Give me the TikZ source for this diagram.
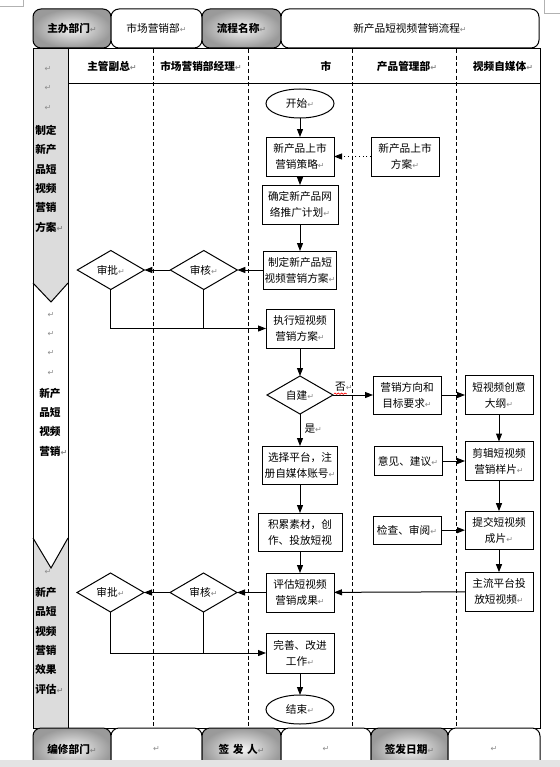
\documentclass[tikz,border=0pt]{standalone}
\usepackage{fontspec}
\setmainfont{Noto Sans CJK SC}
\newfontfamily\markfont{DejaVu Sans}
\usepackage{xcolor}
\usepackage{tikz}
\usetikzlibrary{
    positioning,              % For relative node placement (e.g., below=of)
    arrows.meta,              % For the filled triangle tips
    shapes.geometric,         % For diamond and ellipse nodes
    decorations.pathmorphing  % For the wavy underline
}
\definecolor{lanegray}{HTML}{DCDCDC}
\definecolor{markgray}{HTML}{8C8C8C}
\definecolor{shadein}{HTML}{F6F6F6}
\definecolor{shadeout}{HTML}{9A9A9A}
\definecolor{barfill}{HTML}{E4E4E4}
\newcommand{\ret}{{\markfont\fontsize{6}{6}\selectfont\color{markgray}↵}}

\begin{document}
\begin{tikzpicture}[x=0.75pt, y=-0.75pt]

    % --- Style Definitions ---
    \tikzset{
        % boxes of the flow
        stepbox/.style={
            rectangle, draw, line width=0.75pt, inner sep=1pt, outer sep=0pt,
            align=center, font=\fontsize{8}{12}\selectfont,
            minimum width=51pt, minimum height=29.25pt
        },
        % review diamonds
        decide/.style={
            diamond, draw, line width=0.75pt, inner sep=0pt, outer sep=0pt, aspect=1.7,
            font=\fontsize{8}{12}\selectfont,
            minimum width=50.25pt, minimum height=29.25pt
        },
        % start and end
        terminal/.style={
            ellipse, draw, line width=0.75pt, inner sep=0pt, outer sep=0pt,
            font=\fontsize{8}{12}\selectfont,
            minimum width=51pt, minimum height=21.75pt
        },
        % cells of the head and foot rows
        graycell/.style={
            rectangle, rounded corners=6pt, draw, line width=0.75pt, outer sep=0pt,
            inner color=shadein, outer color=shadeout,
            minimum height=29.25pt, font=\bfseries\fontsize{8}{12}\selectfont
        },
        whitecell/.style={
            rectangle, rounded corners=6pt, draw, line width=0.75pt, outer sep=0pt, fill=white,
            minimum height=29.25pt, font=\fontsize{8}{12}\selectfont
        },
        colhead/.style={font=\bfseries\fontsize{8}{12}\selectfont, inner sep=0pt},
        lanetext/.style={font=\bfseries\fontsize{8}{14.5}\selectfont, align=left, inner sep=0pt, anchor=base west},
        lanemark/.style={font=\fontsize{8}{14.5}\selectfont, align=center, inner sep=0pt, anchor=base},
        divider/.style={line width=0.6pt, dash pattern=on 3pt off 2pt},
        arrow/.style={
            ->,
            line width=0.75pt,
            >={Triangle[length=6pt,width=4.5pt]},
            black
        }
    }

    \useasboundingbox (0,0) rectangle (560,767);
    \fill[white] (0,0) rectangle (560,767);

    % page corner marks
    \draw[gray!60, line width=0.5pt] (0,6) -- (23,6) -- (23,0);
    \draw[gray!60, line width=0.5pt] (560,13) -- (544,13) -- (544,0);

    % --- Head row ---
    \node[graycell, minimum width=58.5pt, anchor=north west] (host) at (33,9) {主办部门\ret};
    \node[whitecell, minimum width=68.25pt, right=0pt of host] (hostname) {市场营销部\ret};
    \node[graycell, minimum width=59.25pt, right=0pt of hostname] (flow) {流程名称\ret};
    \node[whitecell, minimum width=193.5pt, right=0pt of flow] (flowname) {新产品短视频营销流程\ret};

    % --- Lane strip ---
    \fill[lanegray] (33,49) -- (68,49) -- (68,283) -- (51,302) -- (33,283) -- cycle;
    \fill[lanegray] (33,538) -- (51,568) -- (68,538) -- (68,728) -- (33,728) -- cycle;
    \draw[line width=0.75pt] (33,283) -- (51,302) -- (68,283);
    \draw[line width=0.75pt] (33,538) -- (51,568) -- (68,538);

    % --- Frame and columns ---
    \draw[line width=0.75pt] (33,49) rectangle (540,728);
    \draw[line width=0.75pt] (68,49) -- (68,728);
    \draw[line width=0.75pt] (68,84) -- (540,84);
    \draw[divider] (153,49) -- (153,728);
    \draw[divider] (248,49) -- (248,728);
    \draw[divider] (352,49) -- (352,728);
    \draw[divider] (456,49) -- (456,728);

    \node[colhead] (vp) at (112,66) {主管副总\ret};
    \node[colhead] (manager) at (201,66) {市场营销部经理\ret};
    \node[colhead] (market) at (326,66) {市};
    \node[colhead] (product) at (407,66) {产品管理部\ret};
    \node[colhead] (media) at (503,66) {视频自媒体\ret};

    % lane labels (base = last line)
    \node[lanemark] (marks1) at (48,110) {\ret\\\ret\\\ret};
    \node[lanetext] (lane1) at (35,231) {制定\\新产\\品短\\视频\\营销\\方案\ret};
    \node[lanemark] (marks2) at (51,375) {\ret\\\ret\\\ret\\\ret};
    \node[lanetext] (lane2) at (39,455) {新产\\品短\\视频\\营销\ret};
    \node[lanemark] (marks3) at (48,574) {\ret};
    \node[lanetext] (lane3) at (35,693) {新产\\品短\\视频\\营销\\效果\\评估\ret};

    % --- Main flow ---
    \node[terminal] (start) at (300,103.5) {开始\ret};
    \node[stepbox, below=14.25pt of start] (strategy) {新产品上市\\营销策略\ret};
    \node[stepbox, minimum width=57pt, below=6.75pt of strategy] (netplan) {确定新产品网\\络推广计划\ret};
    \node[stepbox, minimum width=54.75pt, minimum height=28.5pt, below=20.25pt of netplan] (videoplan) {制定新产品短\\视频营销方案\ret};
    \node[stepbox, below=15pt of videoplan] (execute) {执行短视频\\营销方案\ret};
    \node[decide, minimum width=49.5pt, minimum height=28.5pt, below=21pt of execute] (selfbuild) {自建\ret};
    \node[stepbox, minimum width=56.25pt, minimum height=28.5pt, below=24pt of selfbuild] (platform) {选择平台，注\\册自媒体账号\ret};
    \node[stepbox, minimum width=63pt, minimum height=28.5pt, below=21.75pt of platform] (accumulate) {积累素材，创\\作、投放短视};
    \node[stepbox, below=16.5pt of accumulate] (evaluate) {评估短视频\\营销成果\ret};
    \node[stepbox, minimum height=30pt, below=15.75pt of evaluate] (improve) {完善、改进\\工作\ret};
    \node[terminal, below=16.5pt of improve] (finish) {结束\ret};

    % side boxes
    \node[stepbox, right=27.75pt of strategy] (launch) {新产品上市\\方案\ret};
    \node[stepbox, minimum height=28.5pt, right=30pt of selfbuild] (target) {营销方向和\\目标要求\ret};
    \node[stepbox, right=18pt of target] (outline) {短视频创意\\大纲\ret};
    \node[stepbox, below=20.25pt of outline] (sample) {剪辑短视频\\营销样片\ret};
    \node[stepbox, minimum height=28.5pt, below=23pt of sample] (cut) {提交短视频\\成片\ret};
    \node[stepbox, below=17.25pt of cut] (publish) {主流平台投\\放短视频\ret};
    \node[stepbox, minimum height=21.75pt, left=17.25pt of sample] (advice) {意见、建议\ret};
    \node[stepbox, minimum height=21pt, left=18pt of cut] (review) {检查、审阅\ret};

    % reviews
    \node[decide, left=19.5pt of videoplan] (check1) {审核\ret};
    \node[decide, left=19.5pt of check1] (approve1) {审批\ret};
    \node[decide, left=21.75pt of evaluate] (check2) {审核\ret};
    \node[decide, left=19.5pt of check2] (approve2) {审批\ret};

    % --- Foot row ---
    \node[graycell, minimum width=58.5pt, minimum height=31.5pt, anchor=north west] (editor) at (33,728) {编修部门\ret};
    \node[whitecell, minimum width=68.25pt, minimum height=31.5pt, right=0pt of editor] (editorname) {\ret};
    \node[graycell, minimum width=59.25pt, minimum height=31.5pt, right=0pt of editorname] (signer) {签\,\,发\,\,人\ret};
    \node[whitecell, minimum width=67.5pt, minimum height=31.5pt, right=0pt of signer] (signername) {\ret};
    \node[graycell, minimum width=57.75pt, minimum height=31.5pt, right=0pt of signername] (signdate) {签发日期\ret};
    \node[whitecell, minimum width=69pt, minimum height=31.5pt, right=0pt of signdate] (signdatevalue) {\ret};
    \fill[barfill] (0,760) rectangle (560,767);

    % --- Drawing Connections ---
    \draw[arrow] (start) -- (strategy);
    \draw[arrow] (strategy) -- (netplan);
    \draw[arrow] (netplan) -- (videoplan);
    \draw[arrow, dotted] (launch.west) -- (strategy.east);
    \draw[arrow] (videoplan) -- (check1);
    \draw[arrow] (check1) -- (approve1);
    \draw[arrow] (approve1.south) |- (execute.west);
    \draw[line width=0.75pt] (check1.south) -- (check1.south |- execute.west);
    \draw[arrow] (execute) -- (selfbuild);
    \draw[arrow] (selfbuild) -- node[pos=0.27, above=2pt, font=\fontsize{8}{12}\selectfont, inner sep=0pt] (nolabel) {否\ret} (target);
    \draw[red, line width=0.5pt, decorate, decoration={snake, amplitude=0.5pt, segment length=2.5pt}]
        ([xshift=-0.5pt, yshift=-1pt]nolabel.south west) -- ([xshift=-4.5pt, yshift=-1pt]nolabel.south east);
    \draw[arrow] (selfbuild) -- node[pos=0.45, right=3pt, font=\fontsize{8}{12}\selectfont, inner sep=0pt] (yeslabel) {是\ret} (platform);
    \draw[arrow] (target) -- (outline);
    \draw[arrow] (outline) -- (sample);
    \draw[arrow] (advice) -- (sample);
    \draw[arrow] (sample) -- (cut);
    \draw[arrow] (review) -- (cut);
    \draw[arrow] (cut) -- (publish);
    \draw[arrow] (platform) -- (accumulate);
    \draw[arrow] (accumulate) -- (evaluate);
    \draw[arrow] (publish) -- (evaluate);
    \draw[arrow] (evaluate) -- (check2);
    \draw[arrow] (check2) -- (approve2);
    \draw[arrow] (approve2.south) |- (improve.west);
    \draw[line width=0.75pt] (check2.south) -- (check2.south |- improve.west);
    \draw[arrow] (improve) -- (finish);

\end{tikzpicture}
\end{document}
